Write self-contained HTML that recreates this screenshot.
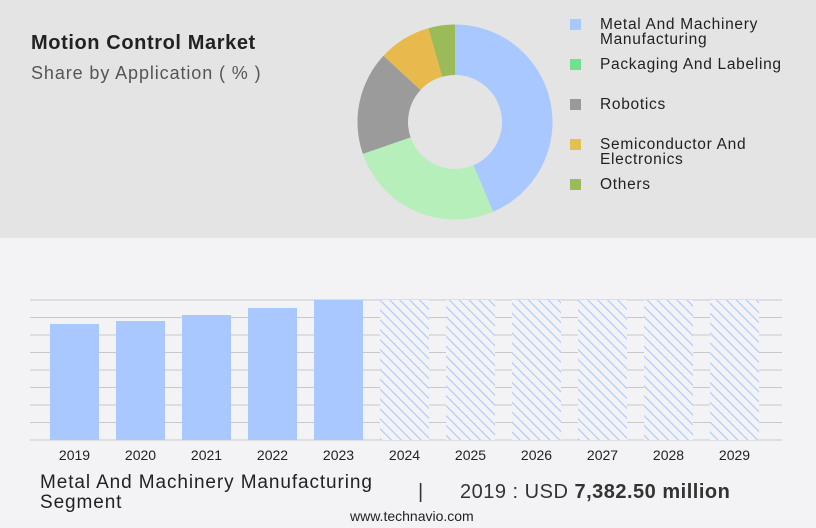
<!DOCTYPE html>
<html><head><meta charset="utf-8"><style>
body{margin:0;width:816px;height:528px;overflow:hidden;background:#f3f3f5;font-family:"Liberation Sans",sans-serif;position:relative}
.top{position:absolute;left:0;top:0;width:816px;height:238px;background:#e4e4e4}
.t{position:absolute;white-space:nowrap;color:#222}
.lg{position:absolute;font-size:15.5px;line-height:15px;color:#222;letter-spacing:0.7px}
.sw{position:absolute;width:11px;height:11px}
</style></head><body>
<div class="top"></div>
<div class="t" style="left:31px;top:32px;font-size:20px;font-weight:bold;letter-spacing:0.6px">Motion Control Market</div>
<div class="t" style="left:31px;top:63px;font-size:18px;color:#555;letter-spacing:0.9px">Share by Application ( % )</div>
<svg id="donut" width="816" height="238" style="position:absolute;left:0;top:0"></svg>
<div>
<div class="sw" style="left:570px;top:19px;background:#a8c8ff"></div>
<div class="lg" style="left:600px;top:17px">Metal And Machinery<br>Manufacturing</div>
<div class="sw" style="left:570px;top:59px;background:#6ee28f"></div>
<div class="lg" style="left:600px;top:57px">Packaging And Labeling</div>
<div class="sw" style="left:570px;top:99px;background:#999"></div>
<div class="lg" style="left:600px;top:97px">Robotics</div>
<div class="sw" style="left:570px;top:139px;background:#e2c24e"></div>
<div class="lg" style="left:600px;top:137px">Semiconductor And<br>Electronics</div>
<div class="sw" style="left:570px;top:179px;background:#9bbb59"></div>
<div class="lg" style="left:600px;top:177px">Others</div>
</div>
<svg id="bars" width="816" height="470" style="position:absolute;left:0;top:0">
<defs><pattern id="hatch" width="7" height="7" patternUnits="userSpaceOnUse" patternTransform="rotate(-45)"><rect width="7" height="7" fill="#f3f3f5"/><line x1="0" y1="0" x2="0" y2="7" stroke="#a8c8ff" stroke-width="2.2"/></pattern></defs>
</svg>
<div class="t" style="left:40px;top:473px;font-size:19px;line-height:20px;color:#222;letter-spacing:0.9px">Metal And Machinery Manufacturing<br>Segment</div>
<div class="t" style="left:418px;top:481px;font-size:20px;color:#333">|</div>
<div class="t" style="left:460px;top:481px;font-size:20px;color:#333;letter-spacing:0.5px">2019 : USD <b>7,382.50 million</b></div>
<div class="t" style="left:350px;top:508px;font-size:14px;color:#222">www.technavio.com</div>
<script>
const sliceLabels=["Metal And Machinery Manufacturing","Packaging And Labeling","Robotics","Semiconductor And Electronics","Others"];
const sliceValues=[43.6,26.1,17.2,8.7,4.4];
const sliceColors=["#a8c8ff","#b6efb9","#9b9b9b","#e8b94c","#9bbb59"];
const years=["2019","2020","2021","2022","2023","2024","2025","2026","2027","2028","2029"];
const barValues=[7382.5,7573,7955,8400,8910,8910,8910,8910,8910,8910,8910];
const forecast=[false,false,false,false,false,true,true,true,true,true,true];
const NS="http://www.w3.org/2000/svg";
(function(){
const s=document.getElementById('donut');const cx=455,cy=122,R=97.5,r=47;
const tot=sliceValues.reduce((a,b)=>a+b,0);let a0=0;
sliceValues.forEach((v,i)=>{const a1=a0+v/tot*2*Math.PI;
const p=(a,rr)=>[cx+rr*Math.sin(a),cy-rr*Math.cos(a)];
const [x1,y1]=p(a0,R),[x2,y2]=p(a1,R),[x3,y3]=p(a1,r),[x4,y4]=p(a0,r);const lg=(a1-a0)>Math.PI?1:0;
const e=document.createElementNS(NS,'path');
e.setAttribute('d',`M${x1} ${y1}A${R} ${R} 0 ${lg} 1 ${x2} ${y2}L${x3} ${y3}A${r} ${r} 0 ${lg} 0 ${x4} ${y4}Z`);
e.setAttribute('fill',sliceColors[i]);


s.appendChild(e);a0=a1;});
})();
(function(){
const s=document.getElementById('bars');const base=440,top=300,max=8910;
const y=v=>base-(v/max)*(base-top);
for(let i=0;i<9;i++){const g=document.createElementNS(NS,'line');const yy=top+i*(base-top)/8;
g.setAttribute('x1',30);g.setAttribute('x2',782);g.setAttribute('y1',yy);g.setAttribute('y2',yy);
g.setAttribute('stroke','#c8c8c8');g.setAttribute('stroke-width','1');


s.appendChild(g);}
years.forEach((yr,i)=>{const x=50+i*66;const b=document.createElementNS(NS,'rect');
b.setAttribute('x',x);b.setAttribute('width',49);b.setAttribute('y',y(barValues[i]));b.setAttribute('height',base-y(barValues[i]));
b.setAttribute('fill',forecast[i]?'url(#hatch)':'#a8c8ff');


s.appendChild(b);
const t=document.createElementNS(NS,'text');t.setAttribute('x',x+24.5);t.setAttribute('y',460);t.setAttribute('text-anchor','middle');
t.setAttribute('font-size','14');t.setAttribute('fill','#222');t.setAttribute('font-family','Liberation Sans, sans-serif');t.textContent=yr;


s.appendChild(t);});
})();
</script>
</body></html>
